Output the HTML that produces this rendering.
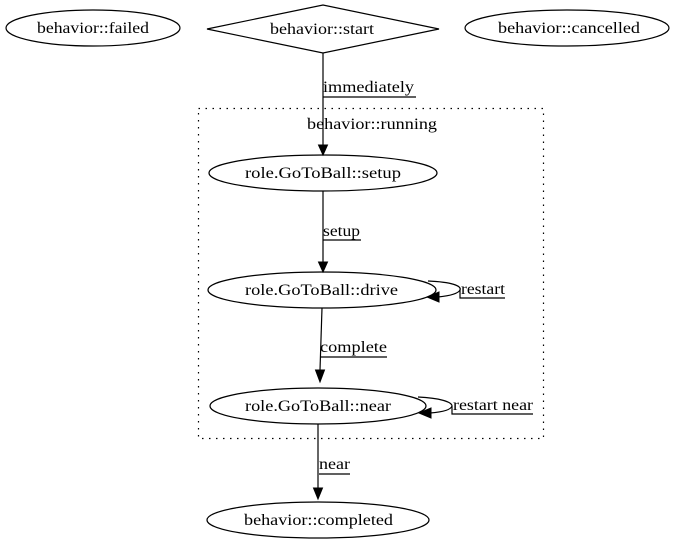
<!DOCTYPE html>
<html><head><meta charset="utf-8"><style>
html,body{margin:0;padding:0;background:#fff}
svg{display:block}
text{font-family:"Liberation Serif",serif;font-size:16px;fill:#000}
</style></head><body>
<svg width="681" height="551" viewBox="0 0 681 551" xmlns="http://www.w3.org/2000/svg">
<g fill="none" stroke="#000" stroke-width="1.2">
<ellipse cx="93" cy="28" rx="87" ry="18"/>
<polygon points="207,29 323,5 439,29 323,53"/>
<ellipse cx="567" cy="28" rx="102" ry="18"/>
<rect x="198.5" y="108.5" width="345" height="330" stroke-dasharray="1.5,5.5"/>
<ellipse cx="323" cy="173" rx="114" ry="18"/>
<ellipse cx="322" cy="290" rx="114" ry="18"/>
<ellipse cx="318" cy="406" rx="108" ry="18"/>
<ellipse cx="318" cy="520" rx="111" ry="18"/>
<line x1="323" y1="53" x2="323" y2="145"/>
<line x1="323" y1="191" x2="323" y2="262"/>
<line x1="322" y1="308" x2="320" y2="370"/>
<line x1="318" y1="424" x2="318" y2="488"/>
<path d="M428,281 C452,282 462,286 460,290 C458,294 448,296 438,297"/>
<path d="M418,397 C440,398 452,402 452,406 C451,410 442,412 430,413"/>
<polyline points="323,97 416,97"/>
<polyline points="323,240 361,240"/>
<polyline points="460,290 460,298 505,298"/>
<polyline points="320,357 387,357"/>
<polyline points="452,406 452,414 533,414"/>
<polyline points="319,474 350,474"/>
</g>
<g fill="#000" stroke="#000">
<polygon points="318.5,145 327.5,145 323,155"/>
<polygon points="318.5,262 327.5,262 323,272"/>
<polygon points="315.5,370 324.5,370 320,382"/>
<polygon points="313.5,488 322.5,488 318,499"/>
<polygon points="439,292 439,302 427,297"/>
<polygon points="431,408 431,418 419,413"/>
</g>
<text x="37" y="33" textLength="112" lengthAdjust="spacingAndGlyphs">behavior::failed</text>
<text x="270" y="34" textLength="104" lengthAdjust="spacingAndGlyphs">behavior::start</text>
<text x="498" y="33" textLength="142" lengthAdjust="spacingAndGlyphs">behavior::cancelled</text>
<text x="307" y="129" textLength="130" lengthAdjust="spacingAndGlyphs">behavior::running</text>
<text x="245" y="178" textLength="156" lengthAdjust="spacingAndGlyphs">role.GoToBall::setup</text>
<text x="245" y="295" textLength="153" lengthAdjust="spacingAndGlyphs">role.GoToBall::drive</text>
<text x="245" y="411" textLength="146" lengthAdjust="spacingAndGlyphs">role.GoToBall::near</text>
<text x="244" y="525" textLength="149" lengthAdjust="spacingAndGlyphs">behavior::completed</text>
<text x="323" y="92" textLength="91" lengthAdjust="spacingAndGlyphs">immediately</text>
<text x="323" y="236" textLength="37" lengthAdjust="spacingAndGlyphs">setup</text>
<text x="461" y="294" textLength="44" lengthAdjust="spacingAndGlyphs">restart</text>
<text x="320" y="352" textLength="67" lengthAdjust="spacingAndGlyphs">complete</text>
<text x="453" y="410" textLength="80" lengthAdjust="spacingAndGlyphs">restart near</text>
<text x="319" y="469" textLength="31" lengthAdjust="spacingAndGlyphs">near</text>
</svg>
</body></html>
